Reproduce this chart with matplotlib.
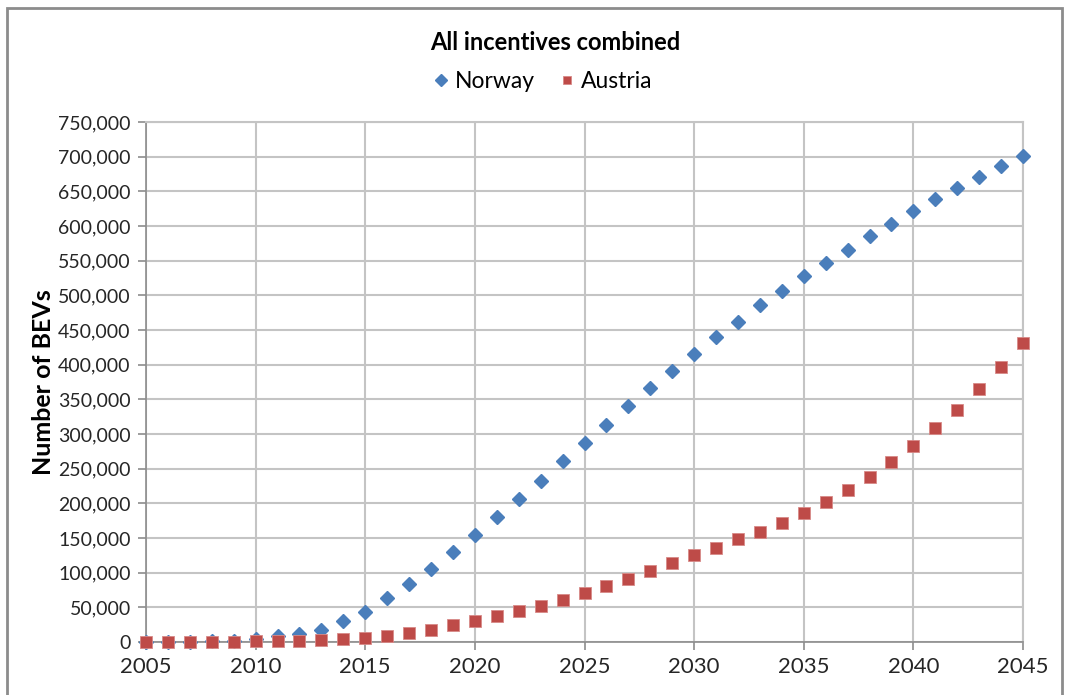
import matplotlib.pyplot as plt
from matplotlib.patches import Rectangle
from matplotlib.ticker import FuncFormatter, MultipleLocator

plt.rcParams["font.family"] = ["Lato", "DejaVu Sans"]

years = list(range(2005, 2046))
norway = [0, 0, 500, 1000, 2000, 5000, 8000, 11000, 18000, 30000,
          43000, 63000, 83000, 105000, 130000, 154000, 180000, 206000, 232000, 261000,
          287000, 313000, 340000, 366000, 391000, 415000, 440000, 461000, 486000, 506000,
          528000, 547000, 565000, 585000, 603000, 621000, 639000, 655000, 671000, 686000,
          701000]
austria = [0, 0, 0, 0, 500, 1000, 1500, 2000, 3000, 4500,
           6000, 9000, 13000, 18000, 24000, 30000, 37000, 44000, 52000, 61000,
           70000, 81000, 91000, 103000, 114000, 125000, 136000, 148000, 159000, 172000,
           186000, 202000, 219000, 238000, 259000, 282000, 308000, 335000, 365000, 397000,
           431000]

blue = "#4A7EBB"
red = "#BE4B48"

fig = plt.figure(figsize=(10.68, 6.95), dpi=100)
ax = fig.add_axes([146 / 1068, 1 - 642 / 695, (1023 - 146) / 1068, (642 - 122) / 695])

ax.plot(years, norway, linestyle="none", marker="D", markersize=7.5,
        color=blue, markeredgecolor=blue, label="Norway", zorder=3, clip_on=False)
ax.plot(years, austria, linestyle="none", marker="s", markersize=8.5,
        color=red, markeredgecolor="#D88A88", markeredgewidth=0.6, label="Austria",
        zorder=4, clip_on=False)

ax.set_xlim(2005, 2045)
ax.set_ylim(0, 750000)
ax.xaxis.set_major_locator(MultipleLocator(5))
ax.yaxis.set_major_locator(MultipleLocator(50000))
ax.yaxis.set_major_formatter(FuncFormatter(lambda v, p: f"{int(v):,}"))

ax.grid(True, color="#C4C4C4", linewidth=1.5, zorder=0)
ax.set_axisbelow(True)
for side in ["top", "right"]:
    ax.spines[side].set_color("#C4C4C4")
    ax.spines[side].set_linewidth(1.5)
for side in ["left", "bottom"]:
    ax.spines[side].set_color("#8C8C8C")
    ax.spines[side].set_linewidth(1.2)

ax.tick_params(axis="y", labelsize=14, length=6, width=1.2, color="#8C8C8C",
               labelcolor="#262626", pad=5)
ax.tick_params(axis="x", labelsize=16, length=6, width=1.2, color="#8C8C8C",
               labelcolor="#262626", pad=5)
ax.set_ylabel("Number of BEVs", fontsize=18, fontweight="bold", labelpad=2)

fig.text(555 / 1068, 1 - 43 / 695, "All incentives combined", ha="center", va="center",
         fontsize=17, fontweight="bold")
fig.legend(loc="center", bbox_to_anchor=(541 / 1068, 1 - 82 / 695), ncol=2,
           frameon=False, fontsize=16.5, handletextpad=0.1, columnspacing=0.9,
           handlelength=1.0, markerscale=0.75)

fig.patches.append(Rectangle((7 / 1068, -0.1), 1055 / 1068, 1 - 8 / 695 + 0.1,
                             transform=fig.transFigure, fill=False,
                             edgecolor="#8C8C8C", linewidth=2))

plt.savefig("out.png", dpi=100)
plt.close()
